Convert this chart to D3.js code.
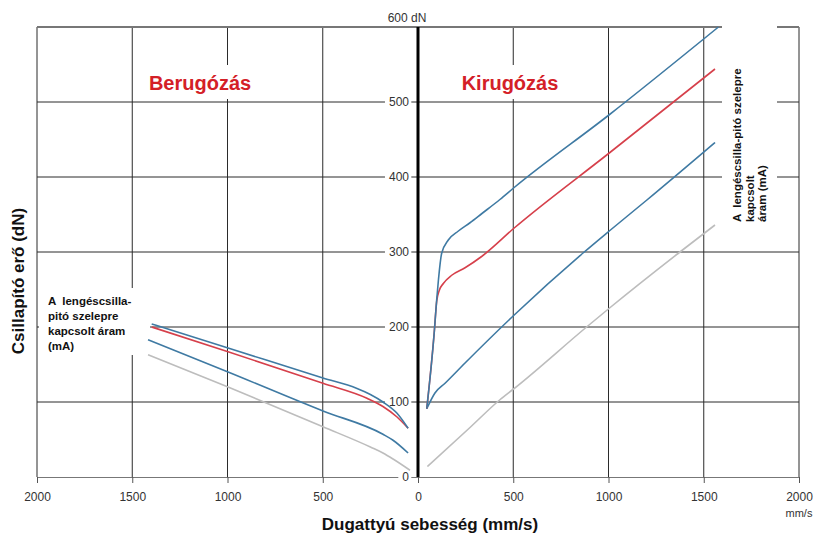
<!DOCTYPE html>
<html>
<head>
<meta charset="utf-8">
<script src="https://cdn.jsdelivr.net/npm/d3@7"></script>
<style>
  body { margin: 0; background: #fff; }
  text { font-family: Arial, "Liberation Sans", sans-serif; }
</style>
</head>
<body>
<svg width="817" height="542"></svg>
<script>
// tick values (compression is drawn on the negative side, labelled without sign)
var xTicks = [-2000, -1500, -1000, -500, 0, 500, 1000, 1500, 2000];
var yTicks = [0, 100, 200, 300, 400, 500, 600];

// Berugózás (compression), velocity in mm/s, force in dN
var compVelHigh = [1398, 997, 499, 320, 250, 184, 110, 52];
var compForceHigh = [204, 172, 132, 118, 110, 100, 85, 65];
var compVelMid = [1398, 997, 499, 268, 184, 110, 52];
var compForceMid = [200, 167, 125, 105, 94, 80, 65];
var compVelLow = [1417, 997, 499, 184, 131, 52];
var compForceLow = [183, 140, 88, 57, 49, 32];
var compVelOff = [1417, 997, 499, 250, 184, 131, 42];
var compForceOff = [163, 120, 67, 40, 32, 24, 9];

// Kirugózás (rebound)
var rebVelHigh = [46, 85, 98, 107, 124, 159, 212, 273, 334, 430, 505, 1004, 1577];
var rebForceHigh = [91, 192, 236, 262, 298, 316, 328, 339, 351, 370, 386, 483, 600];
var rebVelMid = [46, 85, 98, 112, 133, 177, 247, 334, 505, 1004, 1559];
var rebForceMid = [91, 192, 234, 249, 258, 269, 279, 294, 332, 432, 544];
var rebVelLow = [46, 89, 142, 247, 505, 868, 1004, 1200, 1559];
var rebForceLow = [91, 112, 125, 152, 216, 299, 328, 369, 446];
var rebVelOff = [49, 273, 430, 505, 885, 1004, 1375, 1559];
var rebForceOff = [14, 66, 103, 118, 200, 225, 300, 336];

var blue = "#3f7aa3";
var red = "#d6404b";
var gray = "#bdbdbd";

var svg = d3.select("svg");
var x = d3.scaleLinear().domain([-2000, 2000]).range([37, 799]);
var y = d3.scaleLinear().domain([0, 600]).range([477, 27]);

var grid = svg.append("g");
grid.selectAll("line.v")
  .data(xTicks.filter(function (d) { return d != 0; }))
  .enter().append("line")
  .attr("x1", function (d) { return x(d); })
  .attr("x2", function (d) { return x(d); })
  .attr("y1", y(600)).attr("y2", y(0))
  .attr("stroke", "#2b2b2b").attr("stroke-width", 1);
grid.selectAll("line.h")
  .data(yTicks.filter(function (d) { return d > 0 && d < 600; }))
  .enter().append("line")
  .attr("x1", x(-2000)).attr("x2", x(2000))
  .attr("y1", function (d) { return y(d); })
  .attr("y2", function (d) { return y(d); })
  .attr("stroke", "#2b2b2b").attr("stroke-width", 1);
grid.append("line")
  .attr("x1", x(-2000)).attr("x2", x(2000))
  .attr("y1", y(600)).attr("y2", y(600))
  .attr("stroke", "#777").attr("stroke-width", 2);

// bottom axis
var xAxis = svg.append("g")
  .attr("transform", "translate(0," + y(0) + ")")
  .call(d3.axisBottom(x).tickValues(xTicks).tickSize(6).tickPadding(9)
    .tickFormat(function (d) { return Math.abs(d); }));
xAxis.select(".domain").attr("stroke", "#777");
xAxis.selectAll(".tick line").attr("stroke", "#555");
xAxis.selectAll("text").attr("font-size", 12).attr("fill", "#333")
  .style("font-family", "Arial, 'Liberation Sans', sans-serif");

// white boxes behind annotations
svg.append("rect").attr("x", 39).attr("y", 288).attr("width", 111).attr("height", 67).attr("fill", "#fff");
svg.append("rect").attr("x", 722).attr("y", 24).attr("width", 55).attr("height", 210).attr("fill", "#fff");

// y labels on the centre axis
var yAxis = svg.append("g")
  .attr("transform", "translate(" + x(0) + ",0)")
  .call(d3.axisLeft(y).tickValues(yTicks.slice(0, 6)).tickSize(0).tickPadding(9));
yAxis.select(".domain").remove();
yAxis.selectAll("text").attr("font-size", 12).attr("fill", "#333")
  .style("font-family", "Arial, 'Liberation Sans', sans-serif");
yAxis.selectAll(".tick").each(function () {
  var t = d3.select(this).select("text");
  var b = t.node().getBBox();
  d3.select(this).insert("rect", "text")
    .attr("x", b.x - 4).attr("y", b.y).attr("width", b.width + 6).attr("height", b.height)
    .attr("fill", "#fff");
});
svg.append("text").attr("x", 407).attr("y", 22).attr("text-anchor", "middle")
  .attr("font-size", 12).attr("fill", "#333").text("600 dN");

// zero axis
svg.append("line")
  .attr("x1", x(0)).attr("x2", x(0)).attr("y1", y(600)).attr("y2", y(0))
  .attr("stroke", "#000").attr("stroke-width", 3);

// curves
var line = d3.line()
  .x(function (d) { return x(d[0]); })
  .y(function (d) { return y(d[1]); })
  .curve(d3.curveMonotoneX);

function pts(vel, force, sign) {
  return vel.map(function (v, i) { return [sign * v, force[i]]; })
    .sort(function (a, b) { return a[0] - b[0]; });
}

var series = [
  { p: pts(compVelOff, compForceOff, -1), c: gray },
  { p: pts(compVelLow, compForceLow, -1), c: blue },
  { p: pts(compVelMid, compForceMid, -1), c: red },
  { p: pts(compVelHigh, compForceHigh, -1), c: blue },
  { p: pts(rebVelOff, rebForceOff, 1), c: gray },
  { p: pts(rebVelLow, rebForceLow, 1), c: blue },
  { p: pts(rebVelMid, rebForceMid, 1), c: red },
  { p: pts(rebVelHigh, rebForceHigh, 1), c: blue }
];

svg.selectAll("path.curve")
  .data(series)
  .enter().append("path")
  .attr("class", "curve")
  .attr("d", function (d) { return line(d.p); })
  .attr("fill", "none")
  .attr("stroke", function (d) { return d.c; })
  .attr("stroke-width", 1.6);

// section titles
[["Berugózás", 200], ["Kirugózás", 510]].forEach(function (t) {
  var txt = svg.append("text").attr("x", t[1]).attr("y", 90)
    .attr("text-anchor", "middle").attr("font-size", 20).attr("font-weight", "bold")
    .attr("fill", "#d42027").text(t[0]);
  var b = txt.node().getBBox();
  svg.insert("rect", "path.curve")
    .attr("x", b.x - 6).attr("y", 65).attr("width", b.width + 12).attr("height", 34)
    .attr("fill", "#fff");
});

// left annotation
var noteLines = ["A  lengéscsilla-", "pitó szelepre", "kapcsolt áram", "(mA)"];
svg.append("g").selectAll("text")
  .data(noteLines).enter().append("text")
  .attr("x", 48)
  .attr("y", function (d, i) { return 305 + i * 15; })
  .attr("font-size", 11.5).attr("font-weight", "bold").attr("fill", "#111")
  .style("white-space", "pre")
  .text(function (d) { return d; });

// right annotation, rotated
var noteLinesR = ["A  lengéscsilla-pitó szelepre", "kapcsolt", "áram (mA)"];
svg.append("g").selectAll("text")
  .data(noteLinesR).enter().append("text")
  .attr("transform", function (d, i) { return "translate(" + (741 + i * 12.5) + ",222) rotate(-90)"; })
  .attr("font-size", 11.5).attr("font-weight", "bold").attr("fill", "#111")
  .style("white-space", "pre")
  .text(function (d) { return d; });

// axis titles
svg.append("text").attr("transform", "translate(24,281) rotate(-90)")
  .attr("text-anchor", "middle").attr("font-size", 17).attr("font-weight", "bold")
  .attr("fill", "#111").text("Csillapító erő (dN)");
svg.append("text").attr("x", 430).attr("y", 530)
  .attr("text-anchor", "middle").attr("font-size", 17).attr("font-weight", "bold")
  .attr("fill", "#111").text("Dugattyú sebesség (mm/s)");
svg.append("text").attr("x", 799).attr("y", 517)
  .attr("text-anchor", "middle").attr("font-size", 11).attr("fill", "#333").text("mm/s");
</script>
</body>
</html>
